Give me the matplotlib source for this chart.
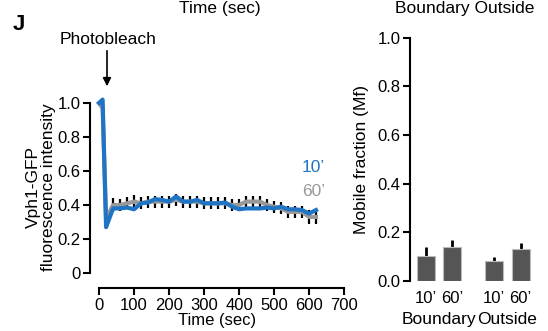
import matplotlib.pyplot as plt
import numpy as np

plt.rcParams['font.family'] = ['Liberation Sans', 'DejaVu Sans']

# FRAP recovery curves (time in sec)
time = [0, 10, 20, 40, 60, 80, 100, 120, 140, 160, 180, 200, 220, 240, 260, 280,
        300, 320, 340, 360, 380, 400, 420, 440, 460, 480, 500, 520, 540, 560, 580,
        600, 620]
blue_10 = [1.00, 1.02, 0.27, 0.38, 0.38, 0.385, 0.375, 0.41, 0.415, 0.435, 0.43,
           0.42, 0.45, 0.42, 0.42, 0.43, 0.41, 0.41, 0.41, 0.415, 0.39, 0.375,
           0.38, 0.38, 0.38, 0.385, 0.38, 0.39, 0.375, 0.375, 0.37, 0.35, 0.37]
gray_60 = [1.00, 0.97, 0.32, 0.40, 0.40, 0.41, 0.42, 0.41, 0.42, 0.42, 0.42,
           0.42, 0.43, 0.42, 0.42, 0.42, 0.41, 0.41, 0.41, 0.41, 0.40, 0.40,
           0.42, 0.42, 0.42, 0.40, 0.39, 0.38, 0.36, 0.36, 0.36, 0.33, 0.33]
err = [0.0, 0.0, 0.04, 0.04, 0.035, 0.035, 0.04, 0.035, 0.035, 0.035, 0.035,
       0.035, 0.035, 0.035, 0.035, 0.035, 0.035, 0.035, 0.035, 0.035, 0.035, 0.035,
       0.035, 0.035, 0.035, 0.035, 0.035, 0.035, 0.035, 0.035, 0.035, 0.04, 0.04]

# mobile fraction bars
bar_labels = ["10\u2019", "60\u2019", "10\u2019", "60\u2019"]
group_labels = ["Boundary", "Outside"]
mf = [0.104, 0.141, 0.084, 0.130]
mf_err = [0.037, 0.028, 0.015, 0.028]

blue = '#1f74c4'
gray = '#999999'
fs = 12

fig = plt.figure(figsize=(5.48, 3.31), dpi=100)

# ---- left: recovery curve ----
ax = fig.add_axes([90/548, 43/331, 254/548, 193.5/331])
ax.errorbar(time, gray_60, yerr=err, fmt='none', ecolor='black', elinewidth=1.6, zorder=1)
ax.plot(time, gray_60, color=gray, lw=3, zorder=2)
ax.plot(time, blue_10, color=blue, lw=3, zorder=3)
ax.set_xlim(-26, 700)
ax.set_ylim(-0.088, 1.05)
ax.set_xticks(np.arange(0, 701, 100))
ax.set_yticks([0, 0.2, 0.4, 0.6, 0.8, 1.0])
ax.set_yticklabels(['0', '0.2', '0.4', '0.6', '0.8', '1.0'])
for s in ['top', 'right']:
    ax.spines[s].set_visible(False)
ax.spines['left'].set_bounds(0, 1.0)
ax.spines['bottom'].set_bounds(0, 700)
for s in ['left', 'bottom']:
    ax.spines[s].set_linewidth(1.5)
ax.tick_params(direction='out', width=1.5, length=5, labelsize=fs, pad=2)
ax.set_xlabel('Time (sec)', fontsize=12)
ax.xaxis.set_label_coords(0.5, -0.13)
ax.set_ylabel('Vph1-GFP\nfluorescence intensity', fontsize=12.5, linespacing=1.0)
ax.yaxis.set_label_coords(-34/254, 101/193.5)
ax.text(646, 0.62, "10\u2019", color=blue, fontsize=12.5, ha='right', va='center')
ax.text(646, 0.48, "60\u2019", color=gray, fontsize=12.5, ha='right', va='center')

# ---- right: mobile fraction ----
pos = [0, 1, 2.62, 3.65]
bx = fig.add_axes([410/548, 50/331, 130/548, 248/331])
bx.bar(pos, mf, width=0.7, color='#555555', edgecolor='#bbbbbb', linewidth=0.8, zorder=2)
bx.errorbar(pos, mf, yerr=[np.zeros(4), mf_err], fmt='none', ecolor='black',
            elinewidth=2, capsize=0, zorder=1)
bx.set_xlim(-0.62, 4.4)
bx.set_ylim(0, 1.02)
bx.set_yticks(np.arange(0, 1.01, 0.2))
bx.set_yticklabels(['0.0', '0.2', '0.4', '0.6', '0.8', '1.0'])
bx.set_xticks(pos)
bx.set_xticklabels(bar_labels)
for s in ['top', 'right', 'bottom']:
    bx.spines[s].set_visible(False)
bx.spines['left'].set_bounds(0, 1.0)
bx.spines['left'].set_linewidth(1.5)
bx.tick_params(axis='y', direction='out', width=1.5, length=5, labelsize=fs, pad=2)
bx.tick_params(axis='x', length=0, labelsize=fs, pad=7)
bx.set_ylabel('Mobile fraction (Mf)', fontsize=12.5)
bx.yaxis.set_label_coords(-41/130, 0.49)
bx.text(0.5, -0.157, group_labels[0], transform=bx.get_xaxis_transform(),
        ha='center', va='center', fontsize=12.5)
bx.text(3.13, -0.157, group_labels[1], transform=bx.get_xaxis_transform(),
        ha='center', va='center', fontsize=12.5)

# stray labels and annotations
fig.text(19/548, 1 - 25/331, 'J', fontsize=16, fontweight='bold', ha='center', va='center')
fig.text(220/548, 1 - 8/331, 'Time (sec)', fontsize=12.5, ha='center', va='center')
fig.text(465/548, 1 - 8/331, 'Boundary Outside', fontsize=12.5, ha='center', va='center')
fig.text(108/548, 1 - 40/331, 'Photobleach', fontsize=12.5, ha='center', va='center')
ax.annotate('', xy=(107/548, 1 - 89/331), xytext=(107/548, 1 - 48/331),
            xycoords='figure fraction', textcoords='figure fraction',
            arrowprops=dict(arrowstyle='-|>', color='black', lw=1.2, mutation_scale=12))

fig.savefig('out.png', dpi=100)
